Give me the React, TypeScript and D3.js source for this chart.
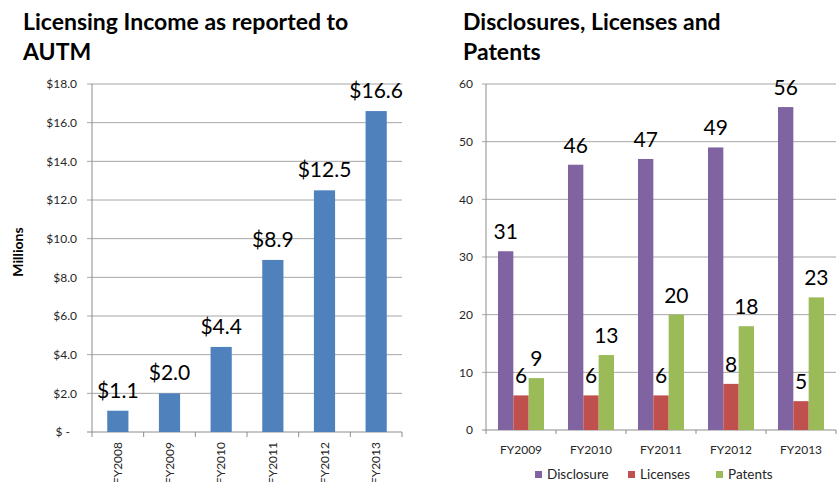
import React from "react";
import * as d3 from "d3";

const incomeYears = ["FY2008", "FY2009", "FY2010", "FY2011", "FY2012", "FY2013"];
const incomeValues = [1.1, 2.0, 4.4, 8.9, 12.5, 16.6];
const incomeTicks = [0, 2, 4, 6, 8, 10, 12, 14, 16, 18];

const dlpYears = ["FY2009", "FY2010", "FY2011", "FY2012", "FY2013"];
const seriesNames = ["Disclosure", "Licenses", "Patents"];
const disclosures = [31, 46, 47, 49, 56];
const licenses = [6, 6, 6, 8, 5];
const patents = [9, 13, 20, 18, 23];
const dlpTicks = [0, 10, 20, 30, 40, 50, 60];

const seriesColors = ["#8064A2", "#C0504D", "#9BBB59"];
const FONT = "Lato, 'Open Sans', sans-serif";

export default function App() {
  // Left chart scales
  const xL = d3.scaleBand<string>().domain(incomeYears).range([92, 402]).padding(0);
  const yL = d3.scaleLinear().domain([0, 18]).range([432, 84]);
  const barW = xL.bandwidth() * 0.41;

  // Right chart scales
  const xR = d3.scaleBand<string>().domain(dlpYears).range([486, 836]).padding(0);
  const yR = d3.scaleLinear().domain([0, 60]).range([430, 84]);
  const xSub = d3.scaleBand<string>().domain(seriesNames).range([-23, 23]).padding(0);
  const seriesData = [disclosures, licenses, patents];

  const gridColor = "#A6A6A6";
  const axisColor = "#8C8C8C";
  const tickText = "#262626";

  const fmtMoney = (v: number) => (v === 0 ? "$ -" : "$" + d3.format(".1f")(v));

  return (
    <div style={{ position: "absolute", left: 0, top: 0 }}>
      <svg width={839} height={482} style={{ display: "block", background: "#fff" }} fontFamily={FONT}>
        {/* ---------- Left chart ---------- */}
        <text x={23} y={30} fontSize={23} fontWeight="bold" fill="#000">
          Licensing Income as reported to
        </text>
        <text x={23} y={60} fontSize={23} fontWeight="bold" fill="#000">
          AUTM
        </text>

        {incomeTicks.map((t) => (
          <g key={"lg" + t}>
            <line x1={87} x2={402} y1={yL(t)} y2={yL(t)} stroke={t === 0 ? axisColor : gridColor} strokeWidth={1} />
            <text x={t === 0 ? 70 : 77} y={yL(t)} dy="0.35em" textAnchor="end" fontSize={12} fill={tickText}>
              {fmtMoney(t)}
            </text>
          </g>
        ))}
        <line x1={92} x2={92} y1={84} y2={437} stroke={axisColor} />
        {incomeYears.map((c) => (
          <line key={"ltk" + c} x1={(xL(c) as number) + xL.bandwidth()} x2={(xL(c) as number) + xL.bandwidth()} y1={432} y2={437} stroke={axisColor} />
        ))}
        <text
          transform={`translate(23,252) rotate(-90)`}
          textAnchor="middle"
          fontSize={14}
          fontWeight="bold"
          fill="#000"
        >
          Millions
        </text>

        {incomeYears.map((c, i) => {
          const cx = (xL(c) as number) + xL.bandwidth() / 2;
          return (
            <g key={"lb" + c}>
              <rect x={cx - barW / 2} y={yL(incomeValues[i])} width={barW} height={yL(0) - yL(incomeValues[i])} fill="#4F81BD" />
              <text x={cx} y={yL(incomeValues[i]) - 13} textAnchor="middle" fontSize={21} fill="#000">
                {"$" + d3.format(".1f")(incomeValues[i])}
              </text>
              <text transform={`translate(${cx + 4},442) rotate(-90)`} textAnchor="end" fontSize={12} fill={tickText}>
                {c}
              </text>
            </g>
          );
        })}

        {/* ---------- Right chart ---------- */}
        <text x={463} y={30} fontSize={23} fontWeight="bold" fill="#000">
          Disclosures, Licenses and
        </text>
        <text x={463} y={60} fontSize={23} fontWeight="bold" fill="#000">
          Patents
        </text>

        {dlpTicks.map((t) => (
          <g key={"rg" + t}>
            <line x1={482} x2={836} y1={yR(t)} y2={yR(t)} stroke={t === 0 ? axisColor : gridColor} strokeWidth={1} />
            <text x={473} y={yR(t)} dy="0.35em" textAnchor="end" fontSize={12} fill={tickText}>
              {t}
            </text>
          </g>
        ))}
        <line x1={486} x2={486} y1={84} y2={434} stroke={axisColor} />
        {dlpYears.map((c) => (
          <line key={"rtk" + c} x1={(xR(c) as number) + xR.bandwidth()} x2={(xR(c) as number) + xR.bandwidth()} y1={430} y2={434} stroke={axisColor} />
        ))}

        {dlpYears.map((c, i) => {
          const cx = (xR(c) as number) + xR.bandwidth() / 2;
          return (
            <g key={"rb" + c}>
              {seriesNames.map((s, k) => {
                const v = seriesData[k][i];
                const bx = cx + (xSub(s) as number);
                return (
                  <g key={s}>
                    <rect x={bx} y={yR(v)} width={xSub.bandwidth()} height={yR(0) - yR(v)} fill={seriesColors[k]} />
                    <text x={bx + xSub.bandwidth() / 2} y={yR(v) - 12} textAnchor="middle" fontSize={21} fill="#000">
                      {v}
                    </text>
                  </g>
                );
              })}
              <text x={cx} y={454} textAnchor="middle" fontSize={12} fill={tickText}>
                {c}
              </text>
            </g>
          );
        })}

        {/* Legend */}
        {seriesNames.map((s, k) => {
          const lx = [535, 628, 716][k];
          return (
            <g key={"lg-" + s}>
              <rect x={lx} y={471} width={7} height={7} fill={seriesColors[k]} />
              <text x={lx + 12} y={479} fontSize={13.5} fill={tickText}>
                {s}
              </text>
            </g>
          );
        })}
      </svg>
    </div>
  );
}
